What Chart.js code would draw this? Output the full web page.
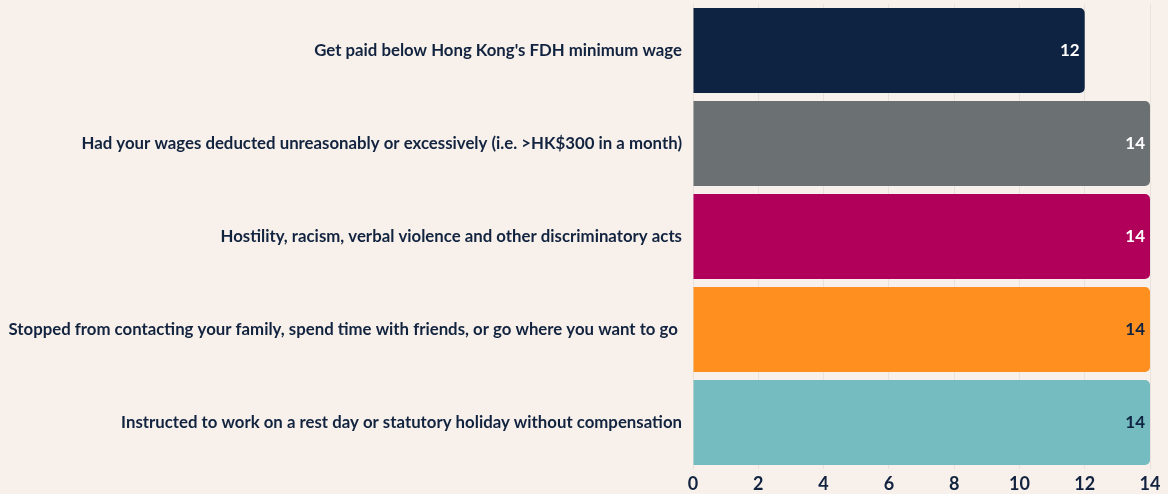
<!DOCTYPE html>
<html>
<head>
<meta charset="utf-8">
<script src="https://cdn.jsdelivr.net/npm/chart.js@4/dist/chart.umd.min.js"></script>
<style>
  html, body { margin: 0; padding: 0; background: #f8f1eb; }
  #wrap { width: 1168px; height: 494px; }
</style>
</head>
<body>
<div id="wrap"><canvas id="barChart" width="1168" height="494"></canvas></div>
<script>
var categories = [
  "Get paid below Hong Kong's FDH minimum wage",
  "Had your wages deducted unreasonably or excessively (i.e. >HK$300 in a month)",
  "Hostility, racism, verbal violence and other discriminatory acts",
  "Stopped from contacting your family, spend time with friends, or go where you want to go ",
  "Instructed to work on a rest day or statutory holiday without compensation"
];
var counts = [12, 14, 14, 14, 14];
var barColors = ["#0e2341", "#6b7073", "#b1005a", "#ff8f1f", "#75bcc0"];
var valueColors = ["#ffffff", "#ffffff", "#ffffff", "#0e2341", "#0e2341"];
var xTicks = [0, 2, 4, 6, 8, 10, 12, 14];

var navy = "#12233f";
var fontFamily = "Lato, 'Open Sans', sans-serif";

var valueLabels = {
  id: "valueLabels",
  afterDatasetsDraw: function(chart) {
    var ctx = chart.ctx;
    var meta = chart.getDatasetMeta(0);
    ctx.save();
    ctx.font = "bold 17px " + fontFamily;
    ctx.textAlign = "right";
    ctx.textBaseline = "middle";
    meta.data.forEach(function(bar, i) {
      ctx.fillStyle = valueColors[i];
      ctx.fillText(counts[i], bar.x - 5, bar.y);
    });
    ctx.restore();
  }
};

new Chart(document.getElementById("barChart"), {
  type: "bar",
  data: {
    labels: categories,
    datasets: [{
      data: counts,
      backgroundColor: barColors,
      borderRadius: 5,
      barPercentage: 0.915,
      categoryPercentage: 1
    }]
  },
  options: {
    indexAxis: "y",
    responsive: false,
    animation: false,
    layout: { padding: { top: 4, right: 18, bottom: 0, left: 0 } },
    plugins: {
      legend: { display: false },
      tooltip: { enabled: false }
    },
    scales: {
      x: {
        min: 0,
        max: 14,
        afterBuildTicks: function(axis) {
          axis.ticks = xTicks.map(function(v) { return { value: v }; });
        },
        afterFit: function(axis) { axis.height = 25; },
        grid: { color: "#e9e2db", drawTicks: false },
        border: { display: false },
        ticks: {
          color: navy,
          padding: 4,
          font: { family: fontFamily, size: 18, weight: "bold" }
        }
      },
      y: {
        afterFit: function(axis) {
          axis.width = 693;
          axis.paddingTop = 0;
          axis.paddingBottom = 0;
        },
        grid: { display: false, drawTicks: false },
        border: { display: false },
        ticks: {
          color: navy,
          padding: 11,
          font: { family: fontFamily, size: 16.8, weight: "bold" }
        }
      }
    }
  },
  plugins: [valueLabels]
});
</script>
</body>
</html>
